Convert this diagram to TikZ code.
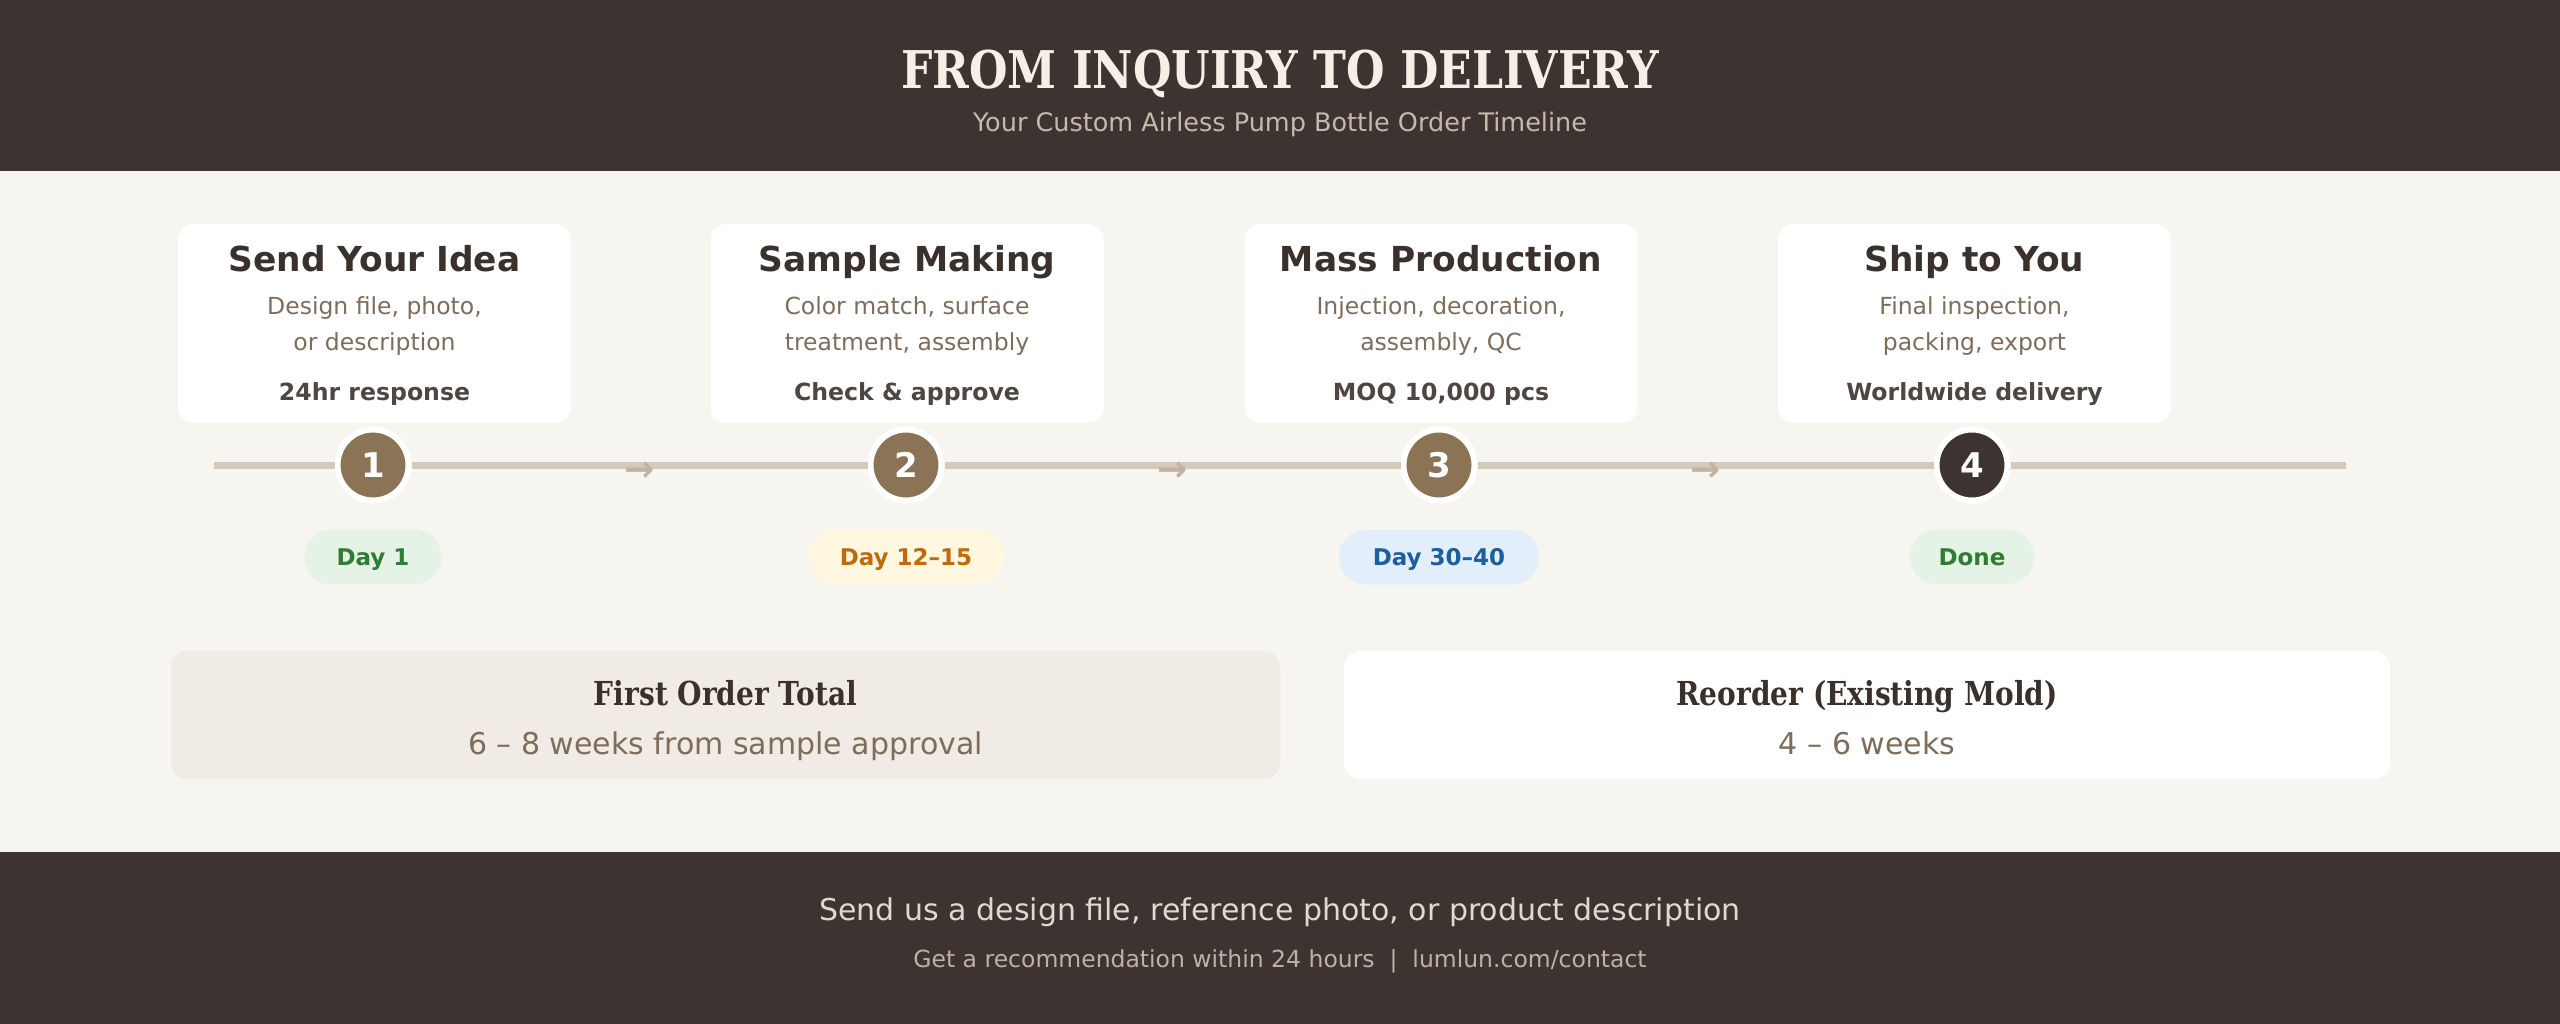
\documentclass[tikz,border=0pt]{standalone}
\usepackage{fontspec}
\setmainfont{DejaVu Sans}
\newfontfamily\serifbf{DejaVu Serif}[FakeStretch=0.85]
\definecolor{darkc}{HTML}{3D3431}
\definecolor{bgc}{HTML}{F7F5F0}
\definecolor{brownc}{HTML}{8B7355}
\definecolor{descc}{HTML}{7D6D5A}
\definecolor{linec}{HTML}{D5C9BA}
\definecolor{arrowc}{HTML}{C2B3A2}
\definecolor{titlec}{HTML}{3A312D}
\definecolor{headc}{HTML}{F5EFE6}
\definecolor{subc}{HTML}{C5B9AC}
\definecolor{foot1c}{HTML}{E2D8CD}
\definecolor{foot2c}{HTML}{BDB1A5}
\definecolor{greenf}{HTML}{E5F3E7}
\definecolor{greent}{HTML}{2E7D32}
\definecolor{yellowf}{HTML}{FFF7E0}
\definecolor{yellowt}{HTML}{BF6A0C}
\definecolor{bluef}{HTML}{E2EFFA}
\definecolor{bluet}{HTML}{1D5E9E}
\definecolor{beigebox}{HTML}{F0EBE4}
\newcommand{\fs}[1]{\fontsize{#1}{#1}\selectfont}
\begin{document}
\begin{tikzpicture}[x=1pt,y=-1pt,
  card/.style={fill=white, rounded corners=16pt, minimum width=393pt, minimum height=199pt, inner sep=0pt},
  ctitle/.style={anchor=base, text=titlec, font=\fs{34.4}\bfseries, inner sep=0pt},
  cdesc/.style={anchor=base, text=descc, font=\fs{23.5}, inner sep=0pt},
  cbold/.style={anchor=base, text=titlec!90!white, font=\fs{23.6}\bfseries, inner sep=0pt},
  stepdot/.style={circle, fill=brownc, draw=white, line width=6pt, minimum size=71pt, inner sep=0pt, text=white, font=\fs{34}\bfseries},
  pill/.style={rounded corners=27pt, minimum height=55pt, inner sep=0pt, text height=17pt, text depth=0pt, font=\fs{23}\bfseries},
  tline/.style={draw=linec, line width=7pt},
  arrowglyph/.style={text=arrowc, font=\fs{36}\bfseries, inner sep=0pt},
  sumbox/.style={rounded corners=16pt, minimum height=128pt, inner sep=0pt},
  sumtitle/.style={anchor=base, text=titlec, font=\fs{33}\serifbf\bfseries, inner sep=0pt},
  sumsub/.style={anchor=base, text=descc, font=\fs{30}, inner sep=0pt}
]
\useasboundingbox (0,0) rectangle (2560,1024);
\fill[bgc] (0,0) rectangle (2560,1024);
\fill[darkc] (0,0) rectangle (2560,171);
\fill[darkc] (0,852) rectangle (2560,1024);

% header
\node[anchor=base, text=headc, font=\fs{52}\serifbf\bfseries, inner sep=0pt] (title) at (1280,88.5) {FROM INQUIRY TO DELIVERY};
\node[anchor=base, text=subc, font=\fs{25.5}, inner sep=0pt] (subtitle) at (1280,131.5) {Your Custom Airless Pump Bottle Order Timeline};

% cards
\node[card] (k1) at (374.5,323.5) {};
\node[card] (k2) at (907,323.5) {};
\node[card] (k3) at (1441,323.5) {};
\node[card] (k4) at (1974.5,323.5) {};

\node[ctitle] (t1) at (374.5,272) {Send Your Idea};
\node[cdesc] (d1a) at (374.5,314.5) {Design file, photo,};
\node[cdesc] (d1b) at (374.5,350.5) {or description};
\node[cbold] (b1) at (374.5,400.5) {24hr response};

\node[ctitle] (t2) at (907,272) {Sample Making};
\node[cdesc] (d2a) at (907,314.5) {Color match, surface};
\node[cdesc] (d2b) at (907,350.5) {treatment, assembly};
\node[cbold] (b2) at (907,400.5) {Check \& approve};

\node[ctitle] (t3) at (1441,272) {Mass Production};
\node[cdesc] (d3a) at (1441,314.5) {Injection, decoration,};
\node[cdesc] (d3b) at (1441,350.5) {assembly, QC};
\node[cbold] (b3) at (1441,400.5) {MOQ 10,000 pcs};

\node[ctitle] (t4) at (1974.5,272) {Ship to You};
\node[cdesc] (d4a) at (1974.5,314.5) {Final inspection,};
\node[cdesc] (d4b) at (1974.5,350.5) {packing, export};
\node[cbold] (b4) at (1974.5,400.5) {Worldwide delivery};

% timeline
\coordinate (lstart) at (214,465);
\coordinate (lend) at (2346,465);
\node[stepdot] (c1) at (373,465) {1};
\node[stepdot] (c2) at (906,465) {2};
\node[stepdot] (c3) at (1439,465) {3};
\node[stepdot, fill=darkc] (c4) at (1972,465) {4};
\draw[tline] (lstart) -- (c1);
\draw[tline] (c1) -- (c2);
\draw[tline] (c2) -- (c3);
\draw[tline] (c3) -- (c4);
\draw[tline] (c4) -- (lend);
\path (c1) -- node[arrowglyph, yshift=-7pt] (a1) {→} (c2);
\path (c2) -- node[arrowglyph, yshift=-7pt] (a2) {→} (c3);
\path (c3) -- node[arrowglyph, yshift=-7pt] (a3) {→} (c4);

% pills
\node[pill, fill=greenf, text=greent, minimum width=137pt] (p1) at (373,557) {Day 1};
\node[pill, fill=yellowf, text=yellowt, minimum width=196pt] (p2) at (906,557) {Day 12–15};
\node[pill, fill=bluef, text=bluet, minimum width=200pt] (p3) at (1439,557) {Day 30–40};
\node[pill, fill=greenf, text=greent, minimum width=124pt] (p4) at (1972,557) {Done};

% summary boxes
\node[sumbox, fill=beigebox, minimum width=1109pt] (s1) at (725.5,715) {};
\node[sumbox, fill=white, minimum width=1046pt] (s2) at (1867,715) {};
\node[sumtitle] (s1t) at (725.5,705) {First Order Total};
\node[sumsub] (s1s) at (725.5,754) {6 – 8 weeks from sample approval};
\node[sumtitle] (s2t) at (1867,705) {Reorder (Existing Mold)};
\node[sumsub] (s2s) at (1867,754) {4 – 6 weeks};

% footer
\node[anchor=base, text=foot1c, font=\fs{30}, inner sep=0pt] (f1) at (1280,920) {Send us a design file, reference photo, or product description};
\node[anchor=base, text=foot2c, font=\fs{23.5}, inner sep=0pt] (f2) at (1280,967.5) {Get a recommendation within 24 hours \ | \ lumlun.com/contact};
\end{tikzpicture}
\end{document}
